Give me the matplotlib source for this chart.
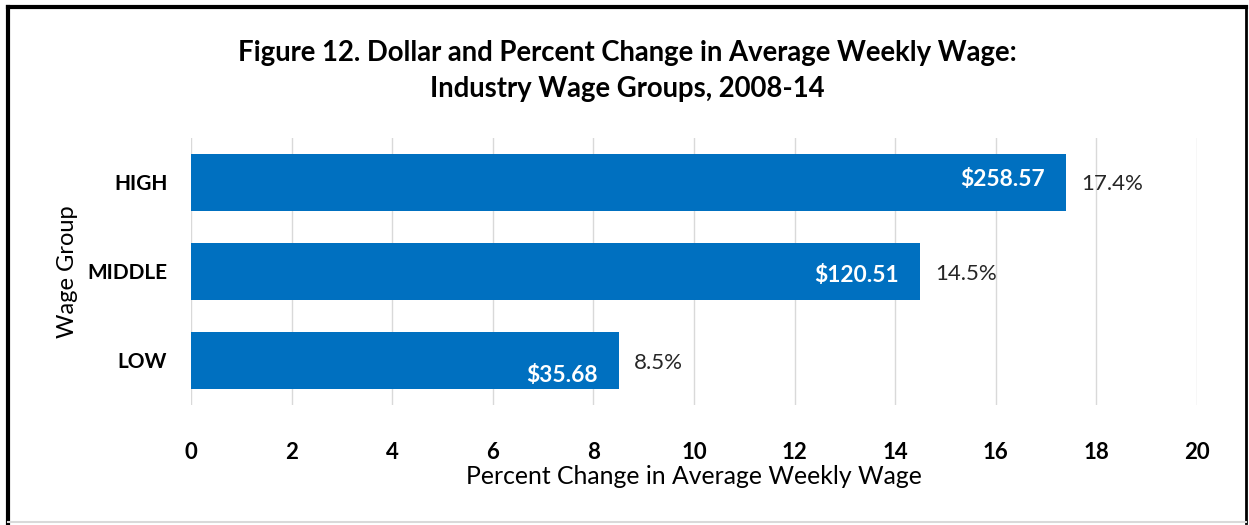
import matplotlib
matplotlib.use("Agg")
import matplotlib.pyplot as plt
from matplotlib.lines import Line2D

plt.rcParams['font.family'] = ['Lato', 'DejaVu Sans']

# data
groups = ["LOW", "MIDDLE", "HIGH"]
pct_change = [8.5, 14.5, 17.4]
dollar_change = ["$35.68", "$120.51", "$258.57"]
xticks = [0, 2, 4, 6, 8, 10, 12, 14, 16, 18, 20]

BLUE = "#0070C0"

fig = plt.figure(figsize=(12.49, 5.25), dpi=100)
ax = fig.add_axes([0.1529, 0.2286, 0.8055, 0.5086])

ypos = list(range(len(groups)))
ax.barh(ypos, pct_change, height=0.65, color=BLUE, zorder=2)

ax.set_xlim(0, 20)
ax.set_ylim(-0.5, 2.5)
ax.set_xticks(xticks)
ax.set_xticklabels([str(t) for t in xticks], fontsize=16, fontweight="bold")
ax.set_yticks(ypos)
ax.set_yticklabels(groups, fontsize=15, fontweight="bold")
ax.tick_params(axis="x", length=0, pad=27)
ax.tick_params(axis="y", length=0, pad=17)
ax.grid(axis="x", color="#d9d9d9", linewidth=1, zorder=0)
for s in ax.spines.values():
    s.set_visible(False)

ax.set_xlabel("Percent Change in Average Weekly Wage", fontsize=17.8, labelpad=1)
ax.set_ylabel("Wage Group", fontsize=17, labelpad=7)

# dollar labels inside bars (Excel placed them a bit unevenly)
inner_dy = [-0.17, -0.045, 0.03]
outer_dy = [-0.03, -0.03, -0.02]
for y, v, lab, dy, dy2 in zip(ypos, pct_change, dollar_change, inner_dy, outer_dy):
    ax.text(v - 0.42, y + dy, lab, color="white", fontsize=16.4, fontweight="bold",
            ha="right", va="center", zorder=3)
    ax.text(v + 0.3, y + dy2, f"{v}%", color="#262626", fontsize=16,
            ha="left", va="center", zorder=3)

fig.text(0.502, 0.9, "Figure 12. Dollar and Percent Change in Average Weekly Wage:",
         ha="center", va="center", fontsize=19.8, fontweight="bold")
fig.text(0.502, 0.831, "Industry Wage Groups, 2008-14",
         ha="center", va="center", fontsize=19.8, fontweight="bold")

# frame around the chart
W, H = 1249, 525
def px(x0, y0, x1, y1, color, lw):
    fig.add_artist(Line2D([x0 / W, x1 / W], [1 - y0 / H, 1 - y1 / H],
                          color=color, linewidth=lw, transform=fig.transFigure))
px(8, 7, 1246, 7, "black", 3)
px(8, 7, 8, 523, "black", 3)
px(1246, 7, 1246, 523, "black", 2)
px(8, 522, 1246, 522, "#d9d9d9", 1.5)

fig.savefig("out.png", dpi=100)
